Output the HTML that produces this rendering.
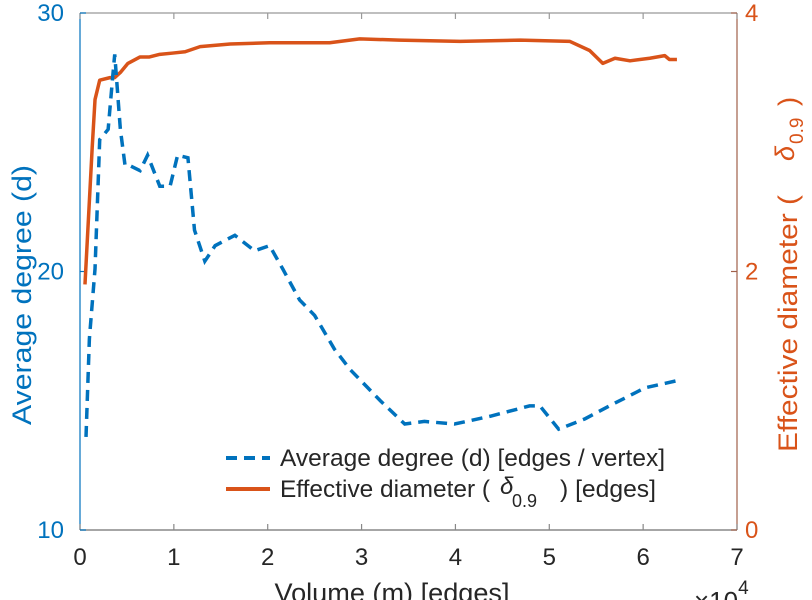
<!DOCTYPE html>
<html><head><meta charset="utf-8"><style>
html,body{margin:0;padding:0;background:#fff;}
svg{display:block;font-family:"Liberation Sans","DejaVu Sans",sans-serif;}
</style></head><body>
<svg id="chart" width="812" height="600" viewBox="0 0 812 600" xmlns="http://www.w3.org/2000/svg">
<g id="axes"></g>
<g id="series"></g>
<g id="legend">
  <line x1="226" y1="458" x2="270" y2="458" stroke="#0072BD" stroke-width="4" stroke-dasharray="11,7"/>
  <text x="280" y="466" font-size="24" textLength="385" lengthAdjust="spacingAndGlyphs" fill="#262626">Average degree (d) [edges / vertex]</text>
  <line x1="226" y1="489" x2="270" y2="489" stroke="#D95319" stroke-width="4"/>
  <text x="280" y="497" font-size="24" textLength="210" lengthAdjust="spacingAndGlyphs" fill="#262626">Effective diameter (</text>
  <text x="500" y="494" font-size="24" font-style="italic" fill="#262626">δ</text>
  <text x="512" y="507" font-size="18" fill="#262626">0.9</text>
  <text x="560" y="497" font-size="24" textLength="96" lengthAdjust="spacingAndGlyphs" fill="#262626">) [edges]</text>
</g>
<text x="0" y="0" transform="translate(31,295) rotate(-90)" text-anchor="middle" font-size="27" textLength="260" lengthAdjust="spacingAndGlyphs" fill="#0072BD">Average degree (d)</text>
<g transform="translate(797,0) rotate(-90)">
  <text x="-452" y="0" font-size="27" textLength="257" lengthAdjust="spacingAndGlyphs" fill="#D95319">Effective diameter (</text>
  <text x="-161" y="-3" font-size="27" font-style="italic" fill="#D95319">δ</text>
  <text x="-144" y="6" font-size="19" fill="#D95319">0.9</text>
  <text x="-106" y="0" font-size="27" fill="#D95319">)</text>
</g>
<text x="392" y="602" text-anchor="middle" font-size="27" textLength="235" lengthAdjust="spacingAndGlyphs" fill="#262626">Volume (m) [edges]</text>
<text x="694" y="610" font-size="26" fill="#262626">×10<tspan font-size="19" dy="-16">4</tspan></text>
</svg>
<script>
const xTicks = [0,1,2,3,4,5,6,7];
const leftTicks = [10,20,30];
const rightTicks = [0,2,4];
const degX = [0.064,0.1,0.16,0.21,0.3,0.35,0.37,0.43,0.48,0.53,0.64,0.72,0.85,0.96,1.04,1.15,1.22,1.33,1.44,1.65,1.86,2.02,2.16,2.34,2.5,2.71,2.88,3.2,3.46,3.67,3.99,4.37,4.79,4.9,5.1,5.38,5.64,6.02,6.39];
const degY = [13.6,17.4,20.1,25.1,25.5,27.6,28.4,25.5,24.1,24.1,23.9,24.5,23.3,23.3,24.5,24.4,21.6,20.4,21.0,21.4,20.8,21.0,20.1,18.9,18.3,17.0,16.2,15.0,14.1,14.2,14.1,14.4,14.8,14.8,13.9,14.3,14.8,15.5,15.8];
const diaX = [0.053,0.13,0.16,0.21,0.32,0.37,0.43,0.51,0.64,0.74,0.85,0.99,1.12,1.28,1.6,2.02,2.66,2.98,3.4,4.05,4.69,5.22,5.43,5.57,5.7,5.86,6.07,6.23,6.28,6.36];
const diaY = [1.9,2.96,3.33,3.48,3.50,3.50,3.54,3.61,3.66,3.66,3.68,3.69,3.70,3.74,3.76,3.77,3.77,3.80,3.79,3.78,3.79,3.78,3.71,3.61,3.65,3.63,3.65,3.67,3.64,3.64];

const L=80,R=737,T=13,B=530;
const xS=v=>L+(v-0)/(7-0)*(R-L);
const yL=v=>B-(v-10)/(30-10)*(B-T);
const yR=v=>B-(v-0)/(4-0)*(B-T);
const NS='http://www.w3.org/2000/svg';
function mk(tag,attrs,parent){const e=document.createElementNS(NS,tag);for(const k in attrs)e.setAttribute(k,attrs[k]);parent.appendChild(e);return e;}
const ax=document.getElementById('axes');
let e;
e=mk('line',{x1:L,y1:T,x2:R,y2:T,stroke:'#999',"stroke-width":1.2},ax);


e=mk('line',{x1:L,y1:B,x2:R,y2:B,stroke:'#888',"stroke-width":1.5},ax);


e=mk('line',{x1:L,y1:T,x2:L,y2:B,stroke:'#0072BD',"stroke-width":1.2},ax);


e=mk('line',{x1:R,y1:T,x2:R,y2:B,stroke:'#A0604A',"stroke-width":1.2},ax);


xTicks.forEach(t=>{
  const x=xS(t);
  e=mk('line',{x1:x,y1:B,x2:x,y2:B-6,stroke:'#888',"stroke-width":1.2},ax);
  
  
  e=mk('line',{x1:x,y1:T,x2:x,y2:T+6,stroke:'#999',"stroke-width":1.2},ax);
  
  
  e=mk('text',{x:x,y:B+35,"text-anchor":"middle","font-size":24,fill:'#262626'},ax);
  e.textContent=t;
  
  
});
leftTicks.forEach(t=>{
  const y=yL(t);
  e=mk('line',{x1:L,y1:y,x2:L+6,y2:y,stroke:'#0072BD',"stroke-width":1.2},ax);
  
  
  e=mk('text',{x:L-16,y:y+8,"text-anchor":"end","font-size":24,fill:'#0072BD'},ax);
  e.textContent=t;
  
  
});
rightTicks.forEach(t=>{
  const y=yR(t);
  e=mk('line',{x1:R,y1:y,x2:R-6,y2:y,stroke:'#A0604A',"stroke-width":1.2},ax);
  
  
  e=mk('text',{x:R+8,y:y+8,"text-anchor":"start","font-size":24,fill:'#D95319'},ax);
  e.textContent=t;
  
  
});
const sg=document.getElementById('series');
e=mk('polyline',{points:diaX.map((v,i)=>xS(v)+','+yR(diaY[i])).join(' '),fill:'none',stroke:'#D95319',"stroke-width":3.5,"stroke-linejoin":"round"},sg);


e=mk('polyline',{points:degX.map((v,i)=>xS(v)+','+yL(degY[i])).join(' '),fill:'none',stroke:'#0072BD',"stroke-width":3.5,"stroke-dasharray":"11,7"},sg);


</script>
</body></html>
